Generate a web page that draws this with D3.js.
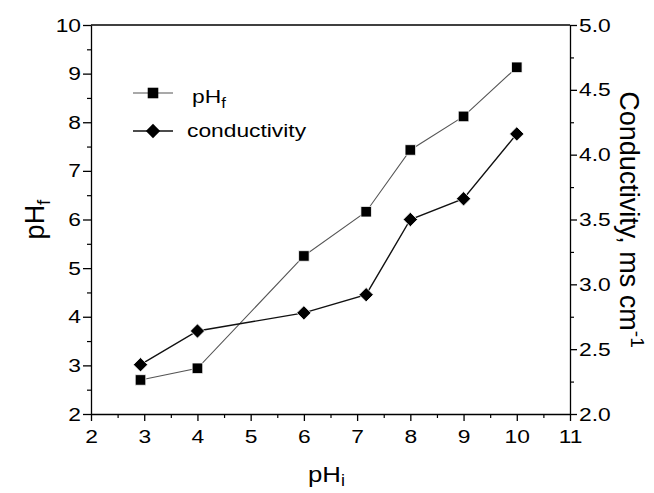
<!DOCTYPE html>
<html><head><meta charset="utf-8">
<script src="https://cdn.jsdelivr.net/npm/d3@7"></script>
<style>body{margin:0;background:#fff}svg{display:block}text{font-family:"Liberation Sans",Arial,sans-serif;fill:#000}</style>
</head><body>
<script>
const pHi = [2.93, 4.0, 6.0, 7.17, 8.0, 9.0, 10.0];
const pHf = [2.70, 2.94, 5.25, 6.16, 7.43, 8.12, 9.13];
const conductivity = [2.38, 2.64, 2.78, 2.92, 3.50, 3.66, 4.16];
const xTicks = [2,3,4,5,6,7,8,9,10,11];
const yTicks = [2,3,4,5,6,7,8,9,10];
const y2Ticks = [2.0,2.5,3.0,3.5,4.0,4.5,5.0];

const W=654,H=493;
const m={l:91,r:84,t:25,b:79};
const svg=d3.select("body").append("svg").attr("width",W).attr("height",H);
const x=d3.scaleLinear().domain([2,11]).range([m.l,W-m.r]);
const y=d3.scaleLinear().domain([2,10]).range([H-m.b,m.t]);
const y2=d3.scaleLinear().domain([2,5]).range([H-m.b,m.t]);
const fs=19, sx=1.2;

svg.append("line").attr("x1",x(2)).attr("x2",x(11)).attr("y1",y(10)).attr("y2",y(10)).attr("stroke","#000").attr("stroke-width",1.3);

function styleAxis(g){
  g.select(".domain").attr("stroke-width",1.3);
  g.selectAll(".tick line").attr("stroke-width",1.3);
  g.selectAll(".tick text").style("font-size",fs+"px").style("font-family","Liberation Sans, Arial, sans-serif")
   .each(function(){const t=d3.select(this);const xv=+t.attr("x")||0;t.attr("x",xv/sx).attr("transform",`scale(${sx},1)`);});
}
function minorStyle(g){g.select(".domain").remove();g.selectAll("line").attr("stroke-width",1.2);}

const xMinor=d3.range(2.5,11,1);
const yMinor=d3.range(2.5,10,1);
const y2Minor=d3.range(2.25,5,0.5);
svg.append("g").attr("transform",`translate(0,${y(2)})`).call(d3.axisBottom(x).tickValues(xMinor).tickSize(4).tickFormat("")).call(minorStyle);
svg.append("g").attr("transform",`translate(${x(2)},0)`).call(d3.axisLeft(y).tickValues(yMinor).tickSize(4).tickFormat("")).call(minorStyle);
svg.append("g").attr("transform",`translate(${x(11)},0)`).call(d3.axisRight(y2).tickValues(y2Minor).tickSize(4).tickFormat("")).call(minorStyle);

svg.append("g").attr("transform",`translate(0,${y(2)})`).call(d3.axisBottom(x).tickValues(xTicks).tickSize(7).tickSizeOuter(0).tickFormat(d3.format("d")).tickPadding(9)).call(styleAxis);
svg.append("g").attr("transform",`translate(${x(2)},0)`).call(d3.axisLeft(y).tickValues(yTicks).tickSize(8).tickSizeOuter(0).tickFormat(d3.format("d")).tickPadding(2)).call(styleAxis);
svg.append("g").attr("transform",`translate(${x(11)},0)`).call(d3.axisRight(y2).tickValues(y2Ticks).tickSize(7).tickSizeOuter(0).tickFormat(d3.format(".1f")).tickPadding(2)).call(styleAxis);

const lineF=d3.line().x((d,i)=>x(pHi[i])).y(d=>y(d));
const lineC=d3.line().x((d,i)=>x(pHi[i])).y(d=>y2(d));
svg.append("path").datum(pHf).attr("d",lineF).attr("fill","none").attr("stroke","#555").attr("stroke-width",1.1);
svg.append("path").datum(conductivity).attr("d",lineC).attr("fill","none").attr("stroke","#111").attr("stroke-width",1.4);

const sq=d3.symbol().type(d3.symbolSquare).size(112);
const dm=d3.symbol().type(d3.symbolDiamond2).size(130);
svg.append("g").selectAll("path").data(pHf).join("path").attr("d",sq).attr("transform",(d,i)=>`translate(${x(pHi[i])},${y(d)})`).attr("fill","#000").attr("stroke","#fff").attr("stroke-width",0.8);
svg.append("g").selectAll("path").data(conductivity).join("path").attr("d",dm).attr("transform",(d,i)=>`translate(${x(pHi[i])},${y2(d)})`).attr("fill","#000").attr("stroke","#fff").attr("stroke-width",0.8);

// legend
const lg=svg.append("g");
lg.append("line").attr("x1",133).attr("x2",173).attr("y1",93).attr("y2",93).attr("stroke","#555").attr("stroke-width",1.1);
lg.append("path").attr("d",sq).attr("transform","translate(153,93)").attr("fill","#000");
const t1=lg.append("text").attr("transform",`translate(192,103) scale(${sx},1)`).style("font-size",fs+"px");
t1.append("tspan").text("pH");
t1.append("tspan").text("f").attr("dy",5).style("font-size","14px");
lg.append("line").attr("x1",133).attr("x2",173).attr("y1",131).attr("y2",131).attr("stroke","#111").attr("stroke-width",1.4);
lg.append("path").attr("d",dm).attr("transform","translate(153,131)").attr("fill","#000");
lg.append("text").attr("transform",`translate(187,137) scale(${sx},1)`).style("font-size",fs+"px").text("conductivity");

// axis titles
const xt=svg.append("text").attr("transform",`translate(${(x(2)+x(11))/2 - 4},482) scale(1.12,1)`).attr("text-anchor","middle").style("font-size","23px");
xt.append("tspan").text("pH");
xt.append("tspan").text("i").attr("dy",4).style("font-size","16px");
const ylt=svg.append("text").attr("transform",`translate(44,${(y(2)+y(10))/2}) rotate(-90)`).attr("text-anchor","middle").style("font-size","27px");
ylt.append("tspan").text("pH");
ylt.append("tspan").text("f").attr("dy",6).style("font-size","19px");
const yrt=svg.append("text").attr("transform",`translate(620,${(y(2)+y(10))/2}) rotate(90)`).attr("text-anchor","middle").style("font-size","27px");
yrt.append("tspan").text("Conductivity, ms cm");
yrt.append("tspan").text("-1").attr("dy",-11).style("font-size","19px");
</script>
</body></html>
